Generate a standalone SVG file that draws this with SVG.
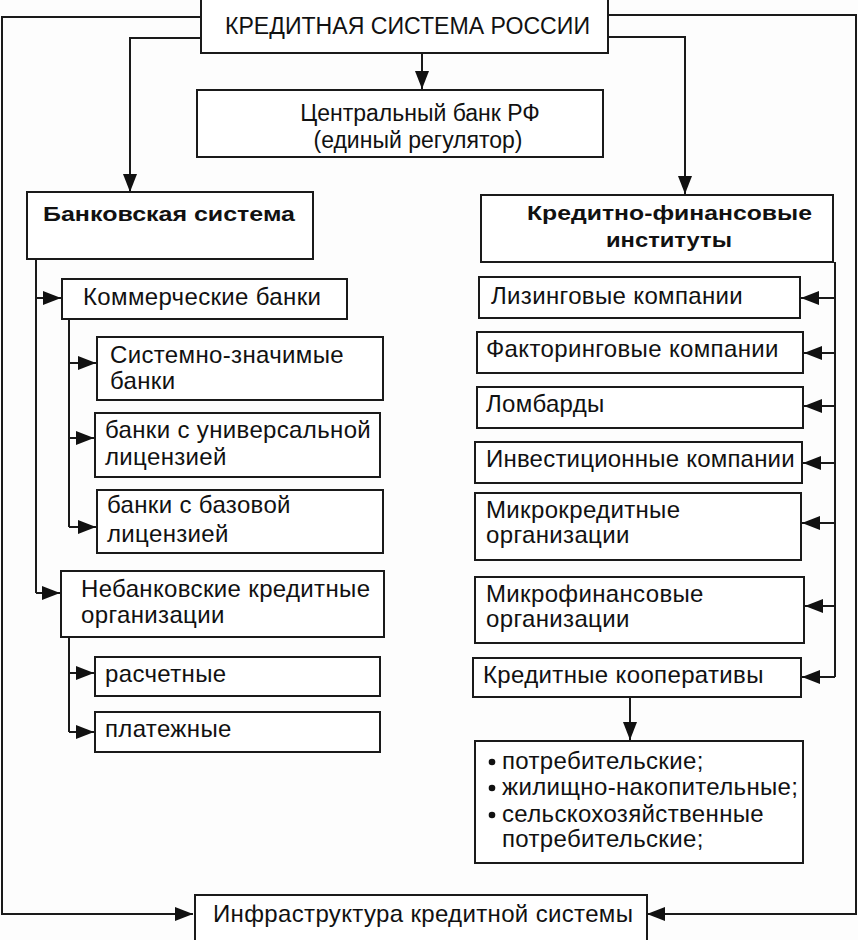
<svg xmlns="http://www.w3.org/2000/svg" width="858" height="940" viewBox="0 0 858 940">
<defs>
<marker id="ah" markerUnits="userSpaceOnUse" markerWidth="19" markerHeight="14" refX="18" refY="7" orient="auto">
<path d="M0,0 L18,7 L0,14 z" fill="#111"/>
</marker>
<style>
.box{fill:#fff;stroke:#1a1a1a;stroke-width:2}
.t{font-family:"Liberation Sans",Arial,sans-serif;font-size:24px;letter-spacing:0.35px;fill:#111}
.t2{font-family:"Liberation Sans",Arial,sans-serif;font-size:23px;fill:#111}
.b{font-family:"Liberation Sans",Arial,sans-serif;font-size:21px;font-weight:bold;fill:#111}
.c{fill:none;stroke:#1a1a1a;stroke-width:2}
.a{fill:none;stroke:#1a1a1a;stroke-width:2;marker-end:url(#ah)}
</style>
</defs>
<rect width="858" height="940" fill="#fdfdfd"/>
<g id="connectors">
<path class="a" d="M201,17 H2 V914 H193"/>
<path class="a" d="M608,15 H856 V914 H647"/>
<path class="a" d="M201,38 H130 V192"/>
<path class="a" d="M608,37 H685 V194"/>
<path class="a" d="M422,53 V89"/>
<path class="c" d="M36,259 V593"/>
<path class="a" d="M36,298 H61"/>
<path class="a" d="M36,593 H60"/>
<path class="c" d="M69,319 V527"/>
<path class="a" d="M69,363 H96"/>
<path class="a" d="M69,438 H94"/>
<path class="a" d="M69,527 H96"/>
<path class="c" d="M69,637 V732"/>
<path class="a" d="M69,673 H94"/>
<path class="a" d="M69,732 H94"/>
<path class="c" d="M835,262 V677"/>
<path class="a" d="M835,298 H801"/>
<path class="a" d="M835,353 H804"/>
<path class="a" d="M835,406 H804"/>
<path class="a" d="M835,463 H803"/>
<path class="a" d="M835,523 H802"/>
<path class="a" d="M835,606 H805"/>
<path class="a" d="M835,677 H802"/>
<path class="a" d="M630,697 V740"/>
</g>
<g id="n-root"><rect class="box" x="201" y="-2" width="407" height="55"/><text class="t2" x="225" y="34" textLength="365" lengthAdjust="spacingAndGlyphs">КРЕДИТНАЯ СИСТЕМА РОССИИ</text></g>
<g id="n-cb"><rect class="box" x="197" y="90" width="406" height="67"/><text class="t2" x="420" y="121" text-anchor="middle">Центральный банк РФ</text><text class="t2" x="418" y="148" text-anchor="middle">(единый регулятор)</text></g>
<g id="n-bank"><rect class="box" x="27" y="192" width="286" height="67"/><text class="b" x="43" y="221" textLength="252" lengthAdjust="spacingAndGlyphs">Банковская система</text></g>
<g id="n-kfi"><rect class="box" x="481" y="195" width="352" height="67"/><text class="b" x="527" y="220" textLength="285" lengthAdjust="spacingAndGlyphs">Кредитно-финансовые</text><text class="b" x="606" y="247" textLength="126" lengthAdjust="spacingAndGlyphs">институты</text></g>
<g id="n-comm"><rect class="box" x="62" y="279" width="285" height="40"/><text class="t" x="83" y="305">Коммерческие банки</text></g>
<g id="n-sys"><rect class="box" x="97" y="337" width="286" height="63"/><text class="t" x="110" y="363">Системно-значимые</text><text class="t" x="110" y="389">банки</text></g>
<g id="n-univ"><rect class="box" x="95" y="413" width="285" height="64"/><text class="t" x="105" y="438">банки с универсальной</text><text class="t" x="105" y="465">лицензией</text></g>
<g id="n-base"><rect class="box" x="97" y="490" width="286" height="63"/><text class="t" x="107" y="513">банки с базовой</text><text class="t" x="107" y="542">лицензией</text></g>
<g id="n-nko"><rect class="box" x="61" y="571" width="323" height="66"/><text class="t" x="81" y="597">Небанковские кредитные</text><text class="t" x="81" y="623">организации</text></g>
<g id="n-rasch"><rect class="box" x="95" y="657" width="285" height="39"/><text class="t" x="105" y="682">расчетные</text></g>
<g id="n-plat"><rect class="box" x="95" y="712" width="285" height="40"/><text class="t" x="105" y="737">платежные</text></g>
<g id="n-leas"><rect class="box" x="479" y="277" width="321" height="41"/><text class="t" x="491" y="304">Лизинговые компании</text></g>
<g id="n-fact"><rect class="box" x="477" y="332" width="326" height="41"/><text class="t" x="486" y="357">Факторинговые компании</text></g>
<g id="n-lomb"><rect class="box" x="477" y="387" width="326" height="41"/><text class="t" x="486" y="412">Ломбарды</text></g>
<g id="n-inv"><rect class="box" x="475" y="442" width="327" height="41"/><text class="t" x="486" y="467" textLength="309">Инвестиционные компании</text></g>
<g id="n-mkr"><rect class="box" x="475" y="493" width="326" height="67"/><text class="t" x="486" y="518">Микрокредитные</text><text class="t" x="486" y="543">организации</text></g>
<g id="n-mfo"><rect class="box" x="475" y="577" width="329" height="66"/><text class="t" x="486" y="602">Микрофинансовые</text><text class="t" x="486" y="627">организации</text></g>
<g id="n-coop"><rect class="box" x="473" y="658" width="328" height="39"/><text class="t" x="483" y="683">Кредитные кооперативы</text></g>
<g id="n-types"><rect class="box" x="475" y="741" width="328" height="122"/>
<circle cx="492" cy="762" r="3.3" fill="#111"/><circle cx="492" cy="788" r="3.3" fill="#111"/><circle cx="492" cy="815" r="3.3" fill="#111"/>
<text class="t" x="502" y="769">потребительские;</text><text class="t" x="502" y="795">жилищно-накопительные;</text><text class="t" x="502" y="822">сельскохозяйственные</text><text class="t" x="502" y="847">потребительские;</text></g>
<g id="n-infra"><rect class="box" x="195" y="895" width="452" height="50"/><text class="t" x="213" y="922">Инфраструктура кредитной системы</text></g>
</svg>
